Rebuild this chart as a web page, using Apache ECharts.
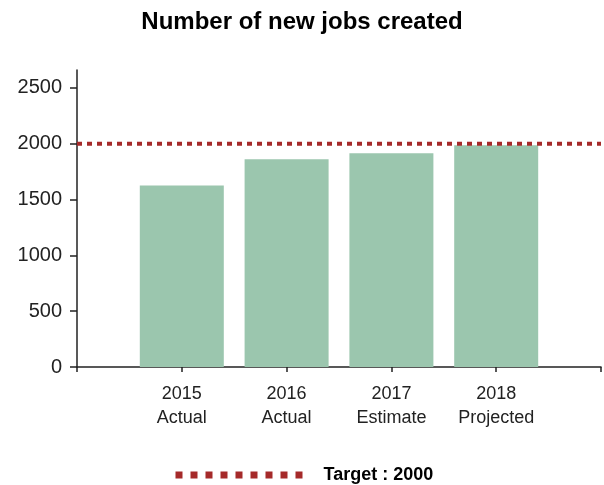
<!DOCTYPE html>
<html>
<head>
<meta charset="utf-8">
<script src="https://cdn.jsdelivr.net/npm/echarts@6/dist/echarts.min.js"></script>
<style>
  html, body { margin: 0; padding: 0; background: #fff; }
  #chart { width: 604px; height: 485px; }
</style>
</head>
<body>
<div id="chart"></div>
<script>
const years = ["2015", "2016", "2017", "2018"];
const stages = ["Actual", "Actual", "Estimate", "Projected"];
const jobs = [1625, 1860, 1915, 1985];
const target = 2000;
const yTicks = [0, 500, 1000, 1500, 2000, 2500];

// pad one empty slot on each side so the axis runs past the bars
const cats = ["", ...years.map((y, i) => y + "\n" + stages[i]), ""];
const barData = ["-", ...jobs, "-"];
const targetData = cats.map(() => target);

const font = "Liberation Sans, Arial, sans-serif";
const chart = echarts.init(document.getElementById("chart"));

chart.setOption({
  animation: false,
  title: {
    text: "Number of new jobs created",
    left: "center",
    top: 10,
    padding: 0,
    textStyle: { fontFamily: font, fontSize: 24, fontWeight: "bold", color: "#000" },
  },
  legend: {
    data: ["Target : 2000"],
    left: 172,
    top: 466,
    padding: 0,
    itemWidth: 127,
    itemHeight: 14,
    itemStyle: { opacity: 0 },
    lineStyle: { width: 7, type: [7, 8], cap: "butt" },
    textStyle: { fontFamily: font, fontSize: 18, fontWeight: "bold", color: "#000", padding: [0, 0, 0, 16] },
  },
  grid: { left: 77, right: 3, top: 70, bottom: 118 },
  xAxis: {
    type: "category",
    data: cats,
    boundaryGap: false,
    axisLine: { lineStyle: { color: "#222", width: 1.5 } },
    axisTick: { length: 5, lineStyle: { color: "#222", width: 1.5 } },
    axisLabel: {
      interval: 0,
      margin: 15,
      fontFamily: font,
      fontSize: 18,
      lineHeight: 24,
      color: "#222",
    },
  },
  yAxis: {
    type: "value",
    min: 0,
    max: 2660,
    splitLine: { show: false },
    axisLine: { show: true, lineStyle: { color: "#222", width: 1.5 } },
    axisTick: { show: true, length: 7, customValues: yTicks, lineStyle: { color: "#222", width: 1.5 } },
    axisLabel: {
      customValues: yTicks,
      formatter: (v) => String(v),
      margin: 15,
      fontFamily: font,
      fontSize: 20,
      color: "#222",
    },
  },
  series: [
    {
      name: "Jobs",
      type: "bar",
      data: barData,
      barWidth: 84,
      itemStyle: { color: "#9bc6ae" },
    },
    {
      name: "Target : 2000",
      type: "line",
      data: targetData,
      symbol: "none",
      z: 5,
      lineStyle: { color: "#a52a2a", width: 4, type: [5, 5] },
      itemStyle: { color: "#a52a2a" },
    },
  ],
});
</script>
</body>
</html>
